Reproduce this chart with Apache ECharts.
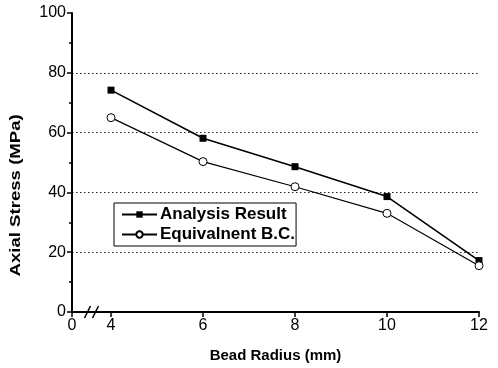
<!DOCTYPE html>
<html><head><meta charset="utf-8">
<script src="https://cdn.jsdelivr.net/npm/echarts@6/dist/echarts.min.js"></script>
<style>html,body{margin:0;padding:0;background:#fff}#c{width:498px;height:368px}</style>
</head><body><div id="c"></div>
<script>
// Data
const radius = [4, 6, 8, 10, 12];
const analysisResult = [74.2, 58.1, 48.6, 38.6, 17.2];
const equivalentBC = [65.0, 50.3, 41.9, 33.0, 15.5];
const xTickValues = [4, 6, 8, 10, 12];
const yTickValues = [0, 20, 40, 60, 80, 100];
const yTitle = 'Axial Stress (MPa)';
// axis break: the "0" label sits at the start of a compressed axis
const xBreakStart = 3.152;

const chart = echarts.init(document.getElementById('c'), null, {renderer: 'canvas'});
const font = 'Liberation Sans, Arial, Helvetica, sans-serif';
const option = {
  animation: false,
  backgroundColor: '#fff',
  grid: {left: 72, right: 19, top: 13, bottom: 56, containLabel: false},
  xAxis: {
    type: 'value', min: xBreakStart, max: 12,
    axisLine: {show: true, onZero: false, lineStyle: {color: '#000', width: 2}},
    axisTick: {show: true, customValues: [xBreakStart].concat(xTickValues), length: 5, lineStyle: {color: '#000', width: 1.5}},
    minorTick: {show: false},
    axisLabel: {
      customValues: [xBreakStart].concat(xTickValues),
      formatter: v => (Math.abs(v - xBreakStart) < 1e-6 ? '0' : String(v)),
      color: '#000', fontSize: 16, fontFamily: font, margin: 6
    },
    splitLine: {show: false},
    name: 'Bead Radius (mm)', nameLocation: 'middle', nameGap: 36,
    nameTextStyle: {color: '#000', fontSize: 15, fontWeight: 'bold', fontFamily: font}
  },
  yAxis: {
    type: 'value', min: 0, max: 100, interval: 20,
    axisLine: {show: true, lineStyle: {color: '#000', width: 2}},
    axisTick: {show: true, length: 5, lineStyle: {color: '#000', width: 1.5}},
    minorTick: {show: true, splitNumber: 2, length: 3, lineStyle: {color: '#000', width: 1.5}},
    axisLabel: {color: '#000', fontSize: 16, fontFamily: font, margin: 6},
    splitLine: {show: true, showMinLine: false, showMaxLine: false, lineStyle: {color: '#222', type: [1.5, 2.5], width: 1}}
  },
  legend: {
    show: true, orient: 'vertical', left: 114, top: 203,
    backgroundColor: '#fff', borderColor: '#000', borderWidth: 1,
    padding: [3, 1, 3, 7], itemGap: 3, itemWidth: 35, itemHeight: 8,
    textStyle: {color: '#000', fontSize: 17, fontWeight: 'bold', fontFamily: font, padding: [0, 0, 0, -2]},
    data: ['Analysis Result', 'Equivalnent B.C.']
  },
  series: [
    {name: 'Analysis Result', type: 'line', data: radius.map((x, i) => [x, analysisResult[i]]),
     symbol: 'rect', symbolSize: 7, lineStyle: {color: '#000', width: 1.6},
     itemStyle: {color: '#000', borderColor: '#000', borderWidth: 0}, z: 3},
    {name: 'Equivalnent B.C.', type: 'line', data: radius.map((x, i) => [x, equivalentBC[i]]),
     symbol: 'circle', symbolSize: 8, lineStyle: {color: '#000', width: 1.2},
     itemStyle: {color: '#fff', borderColor: '#000', borderWidth: 1}, z: 4}
  ]
};
chart.setOption(option);

// Axis break marks "//" between the 0 label and 4, and the stretched y title
const bx = chart.convertToPixel({xAxisIndex: 0}, (xBreakStart + 4) / 2);
const by = chart.convertToPixel({yAxisIndex: 0}, 0);
const ymid = chart.convertToPixel({yAxisIndex: 0}, 39);
chart.setOption({graphic: [
  {type: 'line', shape: {x1: bx - 7, y1: by + 6, x2: bx - 1, y2: by - 6}, style: {stroke: '#000', lineWidth: 1.5}},
  {type: 'line', shape: {x1: bx + 1, y1: by + 6, x2: bx + 7, y2: by - 6}, style: {stroke: '#000', lineWidth: 1.5}},
  {type: 'text', x: 16, y: ymid, rotation: Math.PI / 2, scaleX: 1.24,
   style: {text: yTitle, font: 'bold 15px ' + font, fill: '#000', align: 'center', verticalAlign: 'middle'}}
]});
</script></body></html>
